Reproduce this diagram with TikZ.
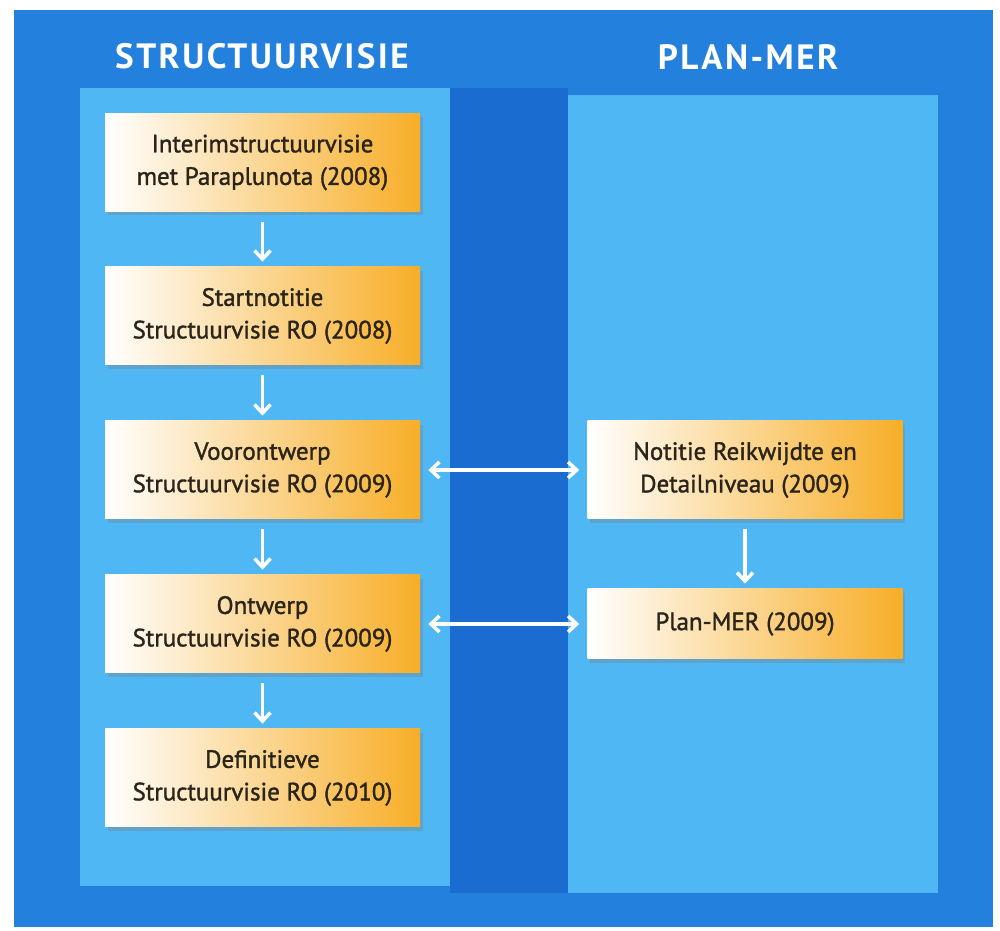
\documentclass[tikz,border=0pt]{standalone}
\usepackage{fontspec}
\setmainfont{PT Sans}
\newfontfamily\stagefont[FakeBold=1.4]{PT Sans}
\newfontfamily\headfont[LetterSpace=7]{PT Sans}
\usepackage{tikz}
\usetikzlibrary{arrows.meta,shadows}
\definecolor{frameblue}{RGB}{35,128,220}
\definecolor{stripblue}{RGB}{26,108,208}
\definecolor{panelblue}{RGB}{78,183,244}
\definecolor{boxyellow}{RGB}{252,220,130}
\definecolor{boxorange}{RGB}{247,174,40}
\definecolor{textdark}{RGB}{42,36,26}
\pgfdeclarelayer{panellayer}
\pgfdeclarelayer{edgelayer}
\pgfsetlayers{panellayer,edgelayer,main}
\tikzstyle{header}=[text=white, font=\headfont\bfseries\fontsize{20}{24}\selectfont]
\tikzstyle{stage}=[rectangle, minimum width=6.3cm, minimum height=1.96cm, align=center, text=textdark, font=\stagefont\fontsize{14.2}{18.5}\selectfont, left color=white, middle color=boxyellow, right color=boxorange, drop shadow={shadow xshift=0.05cm, shadow yshift=-0.08cm, opacity=0.35}]
\tikzstyle{flow}=[-{Straight Barb[length=1.7mm,width=3.2mm]}, draw=white, line width=2pt, shorten <=0.2cm, shorten >=0.1cm]
\tikzstyle{link}=[{Straight Barb[length=1.7mm,width=3.2mm]}-{Straight Barb[length=1.7mm,width=3.2mm]}, draw=white, line width=2pt, shorten <=0.16cm, shorten >=0.16cm]

\begin{document}
\begin{tikzpicture}
    \useasboundingbox (0, 0) rectangle (20, 18.62);
    \begin{pgfonlayer}{panellayer}
        \fill [frameblue] (0.28, 0.08) rectangle (19.86, 18.42);
        \fill [stripblue] (9.0, 0.76) rectangle (11.36, 16.86);
        \fill [panelblue] (1.6, 0.9) rectangle (9.0, 16.86);
        \fill [panelblue] (11.36, 0.76) rectangle (18.76, 16.72);
    \end{pgfonlayer}

    \node [style=header] (hvisie) at (5.24, 17.5) {STRUCTUURVISIE};
    \node [style=header] (hmer) at (14.96, 17.48) {PLAN-MER};

    \node [style=stage] (interim) at (5.25, 15.37) {Interimstructuurvisie\\met Paraplunota (2008)};
    \node [style=stage] (start) at (5.25, 12.3) {Startnotitie\\Structuurvisie RO (2008)};
    \node [style=stage] (voor) at (5.25, 9.22) {Voorontwerp\\Structuurvisie RO (2009)};
    \node [style=stage] (ontwerp) at (5.25, 6.14) {Ontwerp\\Structuurvisie RO (2009)};
    \node [style=stage] (definitief) at (5.25, 3.06) {Definitieve\\Structuurvisie RO (2010)};

    \node [style=stage] (reikwijdte) at (14.9, 9.22) {Notitie Reikwijdte en\\Detailniveau (2009)};
    \node [style=stage, minimum height=1.4cm] (planmer) at (14.9, 6.14) {Plan-MER (2009)};

    \begin{pgfonlayer}{edgelayer}
        \draw [style=flow] (interim) to (start);
        \draw [style=flow] (start) to (voor);
        \draw [style=flow] (voor) to (ontwerp);
        \draw [style=flow] (ontwerp) to (definitief);
        \draw [style=flow] (reikwijdte) to (planmer);

        \draw [style=link] (voor) to (reikwijdte);
        \draw [style=link] (ontwerp) to (planmer);
    \end{pgfonlayer}
\end{tikzpicture}
\end{document}
